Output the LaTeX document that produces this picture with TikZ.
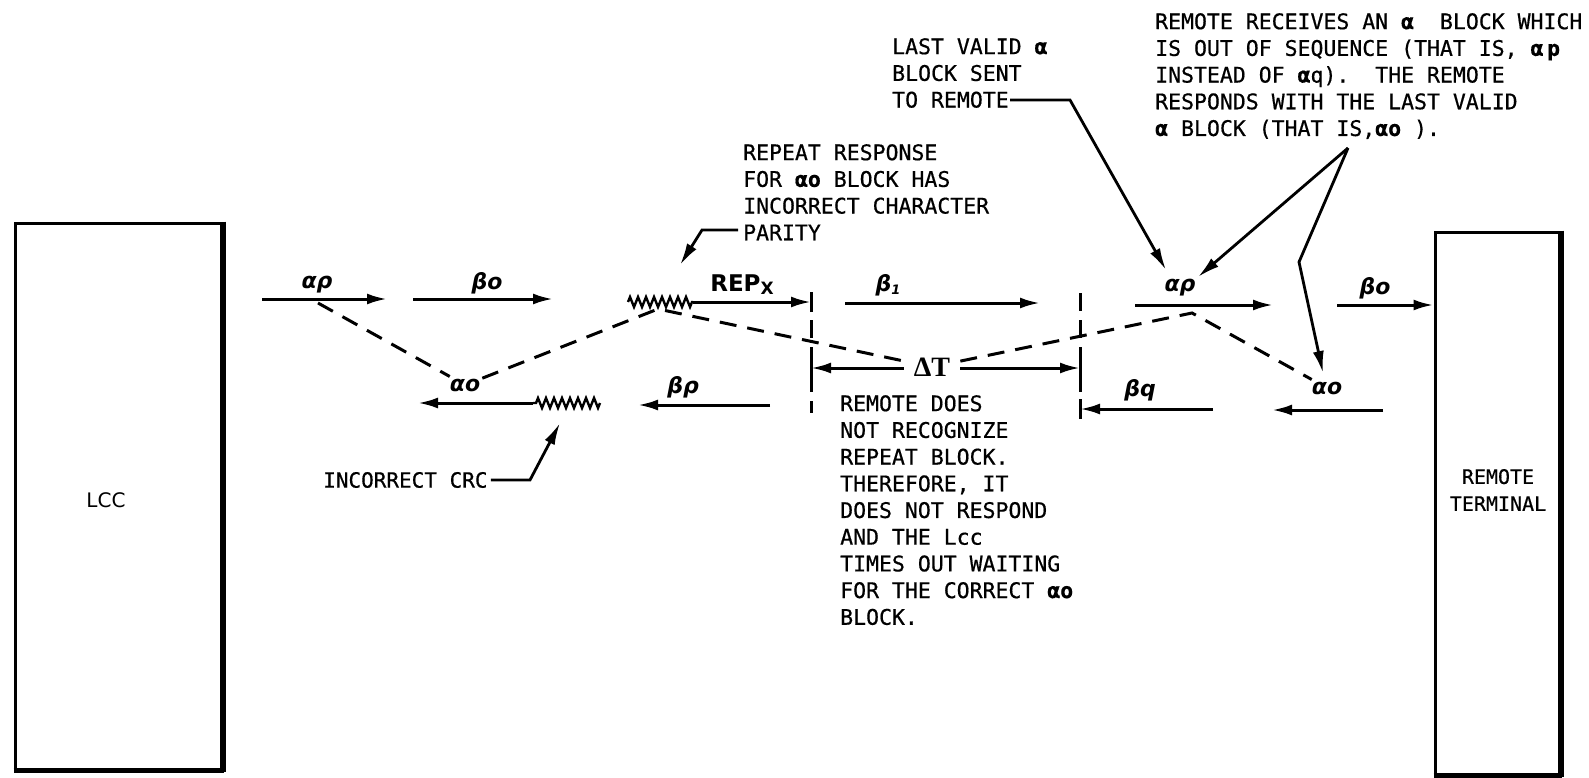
\documentclass[tikz,border=0pt]{standalone}
\usepackage{fontspec}
\usetikzlibrary{arrows.meta,decorations.pathmorphing}
\newfontfamily\ler{DejaVu Sans Mono}[FakeBold=0.6]
\newfontfamily\grk{DejaVu Sans}
\newfontfamily\srf{Liberation Serif}
\tikzset{
  ln/.style={line width=3pt},
  arr/.style={line width=3pt,-{Latex[length=20pt,width=11pt]}},
  ldr/.style={line width=2.8pt,-{Latex[length=22pt,width=11pt]}},
  dsh/.style={line width=3pt,dash pattern=on 17pt off 11pt},
  vdsh/.style={line width=3pt,dash pattern=on 18pt off 9pt},
  zz/.style={line width=2.4pt,decorate,decoration={zigzag,segment length=8pt,amplitude=5pt}},
  lbl/.style={font=\grk\bfseries\itshape\fontsize{22}{22}\selectfont,inner sep=2pt},
  note/.style={font=\ler\fontsize{21.5}{26.7}\selectfont,align=left,anchor=north west,inner sep=0pt},
  box/.style={draw,line width=3pt,inner sep=0pt},
}
\begin{document}
\begin{tikzpicture}[x=1pt,y=-1pt]
\path[use as bounding box,fill=white] (0,0) rectangle (1589,778);

% boxes
\node[box,minimum width=207pt,minimum height=547pt] (lcc) at (118.5,496.5) {};
\draw[line width=6pt] ([xshift=-1pt]lcc.north east) -- ([xshift=-1pt]lcc.south east);
\draw[line width=5pt] ([yshift=1pt]lcc.south west) -- ([yshift=1pt]lcc.south east);
\node[font=\grk\fontsize{20}{20}\selectfont] (lcct) at (106,500) {LCC};
\node[box,minimum width=125pt,minimum height=543pt] (rt) at (1497.5,503.5) {};
\draw[line width=6pt] ([xshift=-1pt]rt.north east) -- ([xshift=-1pt]rt.south east);
\draw[line width=5pt] ([yshift=1pt]rt.south west) -- ([yshift=1pt]rt.south east);
\node[font=\ler\fontsize{20}{27}\selectfont,align=center] (rtt) at (1498,490) {REMOTE\\TERMINAL};

% labels
\node[lbl] (ap1) at (317,285) {αρ};
\node[lbl] (bo1) at (487,283) {βo};
\node[font=\grk\bfseries\fontsize{23}{23}\selectfont,inner sep=1pt] (rep) at (742,285) {REP\raisebox{-3pt}{\fontsize{17}{17}\selectfont X}};
\node[lbl] (b1) at (888,285) {β\raisebox{-3pt}{\fontsize{13}{13}\selectfont 1}};
\node[lbl] (ap2) at (1180,288) {αρ};
\node[lbl] (bo2) at (1375,288) {βo};
\node[lbl] (ao1) at (465,385) {αo};
\node[lbl] (bp) at (683,387) {βρ};
\node[lbl] (bq) at (1140,390) {βq};
\node[lbl] (ao2) at (1327,388) {αo};
\node[font=\srf\bfseries\fontsize{28}{28}\selectfont,inner xsep=10pt,inner ysep=3pt] (dt) at (932,367) {ΔT};

% coordinates
\coordinate (a1s) at (262,299); \coordinate (a1e) at (387,299);
\coordinate (a2s) at (413,299); \coordinate (a2e) at (553,299);
\coordinate (z1s) at (628,302); \coordinate (z1e) at (693,302);
\coordinate (t1) at (811,302);
\coordinate (a4s) at (845,303); \coordinate (a4e) at (1040,303);
\coordinate (a5s) at (1135,305); \coordinate (a5e) at (1273,305);
\coordinate (a6s) at (1337,305);
\coordinate (z2s) at (600,403); \coordinate (z2e) at (533,403); \coordinate (b1e) at (418,403);
\coordinate (b2s) at (770,405); \coordinate (b2e) at (638,405);
\coordinate (dtl) at (811,368); \coordinate (dtr) at (1080,368);
\coordinate (b3s) at (1213,409); \coordinate (b3e) at (1080,409);
\coordinate (b4s) at (1383,410); \coordinate (b4e) at (1272,410);
\coordinate (v1t) at (811,293); \coordinate (v1b) at (811,413);
\coordinate (v2t) at (1080,293); \coordinate (v2b) at (1080,418);
\coordinate (dA) at (318,303);
\coordinate (zpk) at (658,309);
\coordinate (pk2) at (1192,313);

% top row
\draw[arr] (a1s) -- (a1e);
\draw[arr] (a2s) -- (a2e);
\draw[zz] (z1s) -- (z1e);
\draw[arr] (z1e) -- (t1);
\draw[arr] (a4s) -- (a4e);
\draw[arr] (a5s) -- (a5e);
\draw[arr] (a6s) -- (a6s -| rt.west);

% bottom row
\draw[zz] (z2s) -- (z2e);
\draw[arr] (z2e) -- (b1e);
\draw[arr] (b2s) -- (b2e);
\draw[arr] (dt.west |- dtl) -- (dtl);
\draw[arr] (dt.east |- dtr) -- (dtr);
\draw[arr] (b3s) -- (b3e);
\draw[arr] (b4s) -- (b4e);

% vertical dashed lines and ticks
\draw[vdsh] (v1t) -- (v1b);
\draw[vdsh] (v2t) -- (v2b);
\draw[ln] ([yshift=-10pt]dtl) -- ([yshift=10pt]dtl);
\draw[ln] ([yshift=-10pt]dtr) -- ([yshift=10pt]dtr);
\draw[ln] ([yshift=-10pt]b3e) -- ([yshift=10pt]b3e);
\draw[ln] ([yshift=-10pt]t1) -- ([yshift=10pt]t1);

% dashed timing path
\draw[dsh] (dA) -- (ao1) -- (zpk) -- (dt) -- (pk2) -- (ao2);

% notes
\node[note] (n1) at (743,144) {REPEAT RESPONSE\\FOR \textbf{αo} BLOCK HAS\\INCORRECT CHARACTER\\PARITY};
\node[note] (n2) at (892,38) {LAST VALID \textbf{α}\\BLOCK SENT\\TO REMOTE};
\node[note] (n3) at (1155,13) {REMOTE RECEIVES AN \textbf{α}\ \ BLOCK WHICH\\IS OUT OF SEQUENCE (THAT IS, \textbf{α\,p}\\INSTEAD OF \textbf{α}q).\ \ THE REMOTE\\RESPONDS WITH THE LAST VALID\\\textbf{α} BLOCK (THAT IS,\textbf{αo} ).};
\node[note] (n4) at (840,395) {REMOTE DOES\\NOT RECOGNIZE\\REPEAT BLOCK.\\THEREFORE, IT\\DOES NOT RESPOND\\AND THE Lcc\\TIMES OUT WAITING\\FOR THE CORRECT \textbf{αo}\\BLOCK.};
\node[font=\ler\fontsize{21}{21}\selectfont,anchor=west,inner sep=0pt] (n5) at (323,480) {INCORRECT CRC};

% leaders
\coordinate (l1a) at (738,230); \coordinate (l1b) at (702,230); \coordinate (l1c) at (680,265);
\draw[ldr] (l1a) -- (l1b) -- (l1c);
\coordinate (l2a) at (1010,100); \coordinate (l2b) at (1070,100); \coordinate (l2c) at (1166,270);
\draw[ldr] (l2a) -- (l2b) -- (l2c);
\coordinate (apx) at (1348,148); \coordinate (l3c) at (1198,277); \coordinate (l3k) at (1299,262); \coordinate (l3d) at (1323,373);
\draw[ldr] (apx) -- (l3c);
\draw[ldr] (apx) -- (l3k) -- (l3d);
\coordinate (l4b) at (530,480); \coordinate (l4c) at (560,423);
\draw[ldr] ([xshift=3pt]n5.east) -- (l4b) -- (l4c);
\end{tikzpicture}
\end{document}
